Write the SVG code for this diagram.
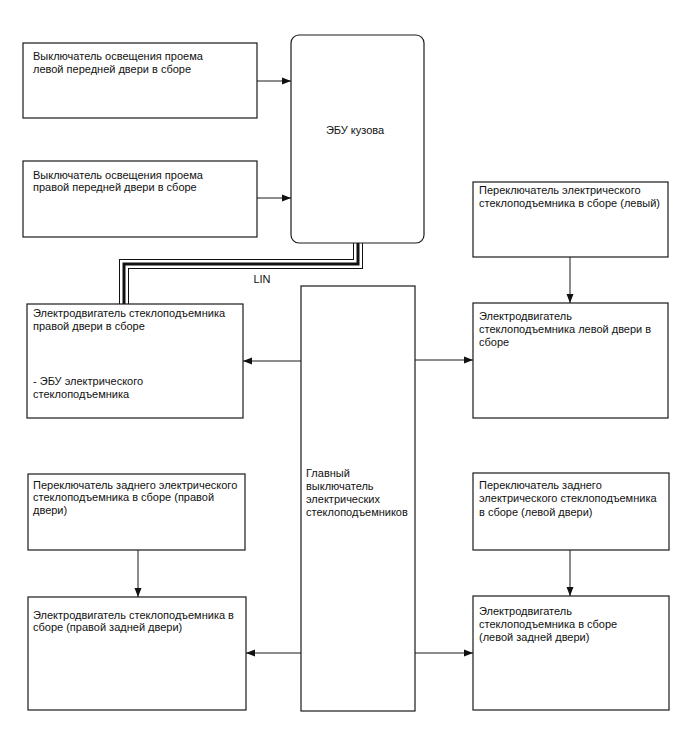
<svg xmlns="http://www.w3.org/2000/svg" width="688" height="755" viewBox="0 0 688 755">
<style>
.box{fill:#fff;stroke:#1a1a1a;stroke-width:1.2}
.t{font-family:"Liberation Sans",Arial,sans-serif;font-size:11px;fill:#111}
.c{stroke:#1a1a1a;stroke-width:1;fill:none;marker-end:url(#ah)}
</style>
<defs>
<marker id="ah" markerWidth="10" markerHeight="8" refX="9" refY="4" orient="auto" markerUnits="userSpaceOnUse">
<path d="M0,0.5 L9,4 L0,7.5 Z" fill="#111"/>
</marker>
</defs>
<rect width="688" height="755" fill="#fff"/>
<g id="connectors">
<line class="c" x1="257" y1="81" x2="291" y2="81"/>
<line class="c" x1="257" y1="198" x2="291" y2="198"/>
<line class="c" x1="570" y1="257" x2="570" y2="303"/>
<line class="c" x1="301" y1="361" x2="243" y2="361"/>
<line class="c" x1="415" y1="360" x2="473" y2="360"/>
<line class="c" x1="138" y1="550" x2="138" y2="597"/>
<line class="c" x1="570" y1="550" x2="570" y2="596"/>
<line class="c" x1="301" y1="653" x2="246" y2="653"/>
<line class="c" x1="415" y1="653" x2="473" y2="653"/>
<g id="lin">
<path d="M358,243 V264 H124 V304" fill="none" stroke="#111" stroke-width="10"/>
<path d="M358,243 V264 H124 V304" fill="none" stroke="#fff" stroke-width="8"/>
<path d="M358,243 V264 H124 V304" fill="none" stroke="#111" stroke-width="3"/>
<text class="t" x="262" y="283" text-anchor="middle">LIN</text>
</g>
</g>
<g id="n1"><rect class="box" x="23" y="43" width="234" height="75"/>
<text class="t" x="33" y="60">Выключатель освещения проема</text>
<text class="t" x="33" y="73">левой передней двери в сборе</text></g>
<g id="n2"><rect class="box" x="23" y="161" width="234" height="76"/>
<text class="t" x="33" y="179">Выключатель освещения проема</text>
<text class="t" x="33" y="191">правой передней двери в сборе</text></g>
<g id="ecu"><rect class="box" x="291" y="35" width="133" height="208" rx="8"/>
<text class="t" x="355" y="134" text-anchor="middle">ЭБУ кузова</text></g>
<g id="n3"><rect class="box" x="473" y="182" width="195" height="75"/>
<text class="t" x="479" y="194">Переключатель электрического</text>
<text class="t" x="479" y="207">стеклоподъемника в сборе (левый)</text></g>
<g id="n4"><rect class="box" x="473" y="303" width="195" height="115"/>
<text class="t" x="479" y="320">Электродвигатель</text>
<text class="t" x="479" y="333">стеклоподъемника левой двери в</text>
<text class="t" x="479" y="346">сборе</text></g>
<g id="n5"><rect class="box" x="27" y="304" width="216" height="114"/>
<text class="t" x="33" y="317">Электродвигатель стеклоподъемника</text>
<text class="t" x="33" y="330">правой двери в сборе</text>
<text class="t" x="33" y="385">- ЭБУ электрического</text>
<text class="t" x="33" y="398">стеклоподъемника</text></g>
<g id="main"><rect class="box" x="301" y="286" width="114" height="425"/>
<text class="t" x="306" y="477">Главный</text>
<text class="t" x="306" y="490">выключатель</text>
<text class="t" x="306" y="503">электрических</text>
<text class="t" x="306" y="516">стеклоподъемников</text></g>
<g id="n6"><rect class="box" x="28" y="474" width="217" height="76"/>
<text class="t" x="33" y="489">Переключатель заднего электрического</text>
<text class="t" x="33" y="501">стеклоподъемника в сборе (правой</text>
<text class="t" x="33" y="514">двери)</text></g>
<g id="n7"><rect class="box" x="28" y="597" width="218" height="113"/>
<text class="t" x="33" y="619">Электродвигатель стеклоподъемника в</text>
<text class="t" x="33" y="631">сборе (правой задней двери)</text></g>
<g id="n8"><rect class="box" x="473" y="473" width="196" height="77"/>
<text class="t" x="479" y="489">Переключатель заднего</text>
<text class="t" x="479" y="502">электрического стеклоподъемника</text>
<text class="t" x="479" y="516">в сборе (левой двери)</text></g>
<g id="n9"><rect class="box" x="473" y="596" width="196" height="114"/>
<text class="t" x="479" y="615">Электродвигатель</text>
<text class="t" x="479" y="628">стеклоподъемника в сборе</text>
<text class="t" x="479" y="641">(левой задней двери)</text></g>
</svg>
